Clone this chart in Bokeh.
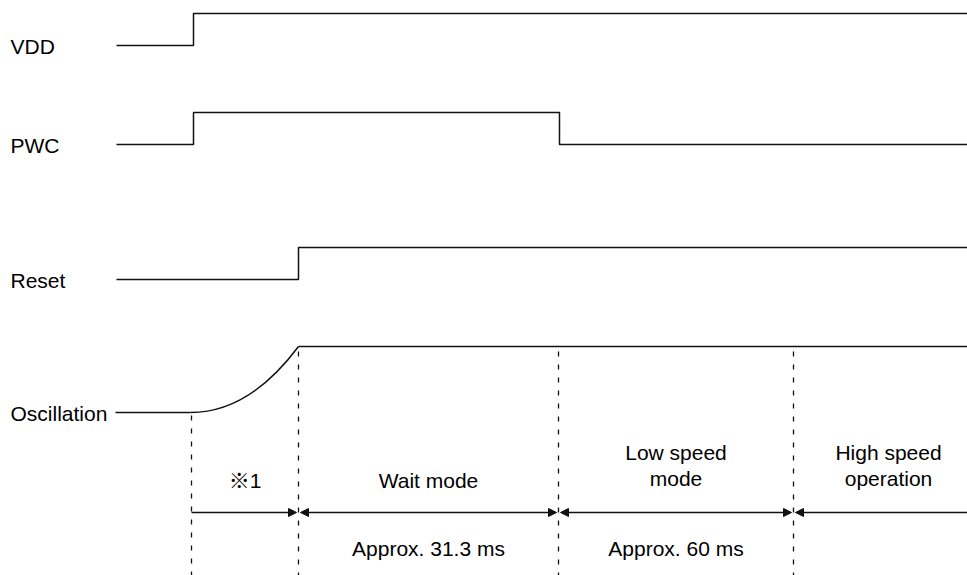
from bokeh.plotting import figure
from bokeh.models import Range1d, Arrow, NormalHead
from bokeh.core.properties import value
from bokeh.embed import file_html
from bokeh.resources import INLINE

# ---- data (diagram units = reference pixels) ----
signal_names = ["VDD", "PWC", "Reset", "Oscillation"]
signal_low = [45, 144, 279, 412]
signal_high = [13, 112, 247, 346]

vdd_x = [116, 193, 193, 967]
vdd_level = [0, 0, 1, 1]
pwc_x = [116, 193, 193, 559, 559, 967]
pwc_level = [0, 0, 1, 1, 0, 0]
reset_x = [116, 298, 298, 967]
reset_level = [0, 0, 1, 1]
# oscillation: flat, smooth rise (start, control1, control2, end), flat
osc_flat_x = [115, 190]
osc_rise_x = [190, 226, 262, 298]
osc_rise_level = [0, 0, 0.27, 1]
osc_high_x = [298, 967]

phase_bounds = [191, 298, 558, 793, 983]
phase_labels = ["※1", "Wait mode", "Low speed\nmode", "High speed\noperation"]
phase_durations = ["", "Approx. 31.3 ms", "Approx. 60 ms", ""]

FONT = value("Liberation Sans, 'Noto Sans CJK JP', sans-serif")
FS = "21px"
INK = "#111111"

p = figure(width=967, height=575, output_backend="svg", toolbar_location=None,
           x_range=Range1d(0, 967), y_range=Range1d(575, 0), min_border=0)
p.axis.visible = False
p.grid.visible = False
p.outline_line_color = None
p.background_fill_color = "white"
p.border_fill_color = "white"

def lvl(i, l):
    return signal_low[i] + l * (signal_high[i] - signal_low[i])

waves = [(vdd_x, vdd_level), (pwc_x, pwc_level), (reset_x, reset_level)]
for i, (xs, lv) in enumerate(waves):
    p.line(xs, [lvl(i, l) for l in lv], line_color=INK, line_width=1.5)

p.line(osc_flat_x, [lvl(3, 0)] * 2, line_color=INK, line_width=1.5)
p.line(osc_high_x, [lvl(3, 1)] * 2, line_color=INK, line_width=1.5)
ry = [lvl(3, l) for l in osc_rise_level]
p.bezier(x0=[osc_rise_x[0]], y0=[ry[0]], cx0=[osc_rise_x[1]], cy0=[ry[1]],
         cx1=[osc_rise_x[2]], cy1=[ry[2]], x1=[osc_rise_x[3]], y1=[ry[3]],
         line_color=INK, line_width=1.5)

# signal names
p.text(x=[10] * 4, y=[s + 1 for s in signal_low], text=signal_names,
       text_font=FONT, text_font_size=FS, text_baseline="middle",
       text_align="left", text_color="#000000")

# dashed phase boundaries
dash_tops = [signal_low[3] + 3] + [signal_high[3] + 5] * 3
for xb, yt in zip(phase_bounds[:4], dash_tops):
    p.line([xb, xb], [yt, 580], line_color=INK, line_width=1.3, line_dash="5 8")

# arrows
arrow_y = 512
for i in range(4):
    x0 = phase_bounds[i] + (0 if i == 0 else 2)
    x1 = min(phase_bounds[i + 1], 975) - (2 if i < 3 else 0)
    start = None if i == 0 else NormalHead(size=8, fill_color=INK, line_color=INK, line_width=1)
    end = None if i == 3 else NormalHead(size=8, fill_color=INK, line_color=INK, line_width=1)
    p.add_layout(Arrow(x_start=x0, y_start=arrow_y, x_end=x1, y_end=arrow_y,
                       start=start, end=end, line_color=INK, line_width=1.3))

centers = [(phase_bounds[i] + phase_bounds[i + 1]) / 2 for i in range(4)]
p.text(x=centers, y=[480, 480, 465, 465], text=phase_labels,
       text_font=FONT, text_font_size=FS, text_baseline="middle",
       text_align="center", text_color="#000000", text_line_height=1.15)
p.text(x=centers, y=[548] * 4, text=phase_durations,
       text_font=FONT, text_font_size=FS, text_baseline="middle",
       text_align="center", text_color="#000000")

open("out.html", "w").write(file_html(p, INLINE))
